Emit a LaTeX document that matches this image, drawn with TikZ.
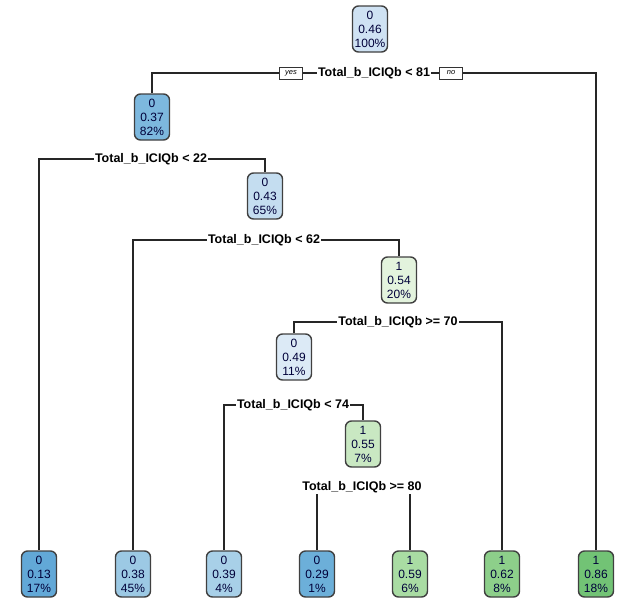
\documentclass[tikz,border=0pt]{standalone}
\usepackage{fontspec}
\setmainfont{Liberation Sans}
\usetikzlibrary{backgrounds}
\definecolor{cA}{HTML}{62A8D7}
\definecolor{cB}{HTML}{6CAFD9}
\definecolor{cC}{HTML}{7DB8DE}
\definecolor{cD}{HTML}{9CC9E4}
\definecolor{cE}{HTML}{A8D0E8}
\definecolor{cF}{HTML}{C4DDF0}
\definecolor{cG}{HTML}{CFE2F3}
\definecolor{cH}{HTML}{DCEAF6}
\definecolor{gA}{HTML}{E3F3DD}
\definecolor{gB}{HTML}{C9E8C2}
\definecolor{gC}{HTML}{A9DCA3}
\definecolor{gD}{HTML}{8DCF8A}
\definecolor{gE}{HTML}{72C375}
\begin{document}
\begin{tikzpicture}[x=1pt,y=-1pt,
		tnode/.style={draw=black!75,line width=1.4pt,rounded corners=6pt,minimum width=35pt,minimum height=46pt,inner sep=1pt,align=center,text=black!75!blue!90!black,font=\fontsize{12}{14}\selectfont},
		split/.style={fill=white,inner sep=1pt,font=\bfseries\fontsize{12.5}{14}\selectfont},
		yn/.style={draw=black!80,fill=white,line width=0.9pt,inner sep=1pt,minimum width=23pt,minimum height=12pt,font=\itshape\fontsize{7.5}{8}\selectfont},
		branch/.style={line width=1.3pt,color=black!85}]
		\useasboundingbox (0,0) rectangle (624,606);
		\node[tnode,fill=cG] (r) at (370,29) {0\\0.46\\100\%};
		\node[tnode,fill=cC] (n2) at (152,117) {0\\0.37\\82\%};
		\node[tnode,fill=cF] (n3) at (265,196) {0\\0.43\\65\%};
		\node[tnode,fill=gA] (n4) at (399,280) {1\\0.54\\20\%};
		\node[tnode,fill=cH] (n5) at (294,357) {0\\0.49\\11\%};
		\node[tnode,fill=gB] (n6) at (363,444) {1\\0.55\\7\%};
		\node[tnode,fill=cA] (l1) at (39,574) {0\\0.13\\17\%};
		\node[tnode,fill=cD] (l2) at (133,574) {0\\0.38\\45\%};
		\node[tnode,fill=cE] (l3) at (224,574) {0\\0.39\\4\%};
		\node[tnode,fill=cB] (l4) at (317,574) {0\\0.29\\1\%};
		\node[tnode,fill=gC] (l5) at (410,574) {1\\0.59\\6\%};
		\node[tnode,fill=gD] (l6) at (502,574) {1\\0.62\\8\%};
		\node[tnode,fill=gE] (l7) at (596,574) {1\\0.86\\18\%};
		\node[split] (s1) at (374,73) {Total\_b\_ICIQb < 81};
		\node[yn] (yes) at (291,73) {yes};
		\node[yn] (no) at (451,73) {no};
		\node[split] (s2) at (151,159) {Total\_b\_ICIQb < 22};
		\node[split] (s3) at (264,240) {Total\_b\_ICIQb < 62};
		\node[split] (s4) at (398,322) {Total\_b\_ICIQb >= 70};
		\node[split] (s5) at (293,405) {Total\_b\_ICIQb < 74};
		\node[split] (s6) at (362,487) {Total\_b\_ICIQb >= 80};
		\begin{scope}[on background layer]
			\draw[branch] (yes.center) -- (no.center);
			\draw[branch] (yes.center) -| (n2);
			\draw[branch] (no.center) -| (l7);
			\draw[branch] (s2.center) -| (l1);
			\draw[branch] (s2.center) -| (n3);
			\draw[branch] (s3.center) -| (l2);
			\draw[branch] (s3.center) -| (n4);
			\draw[branch] (s4.center) -| (n5);
			\draw[branch] (s4.center) -| (l6);
			\draw[branch] (s5.center) -| (l3);
			\draw[branch] (s5.center) -| (n6);
			\draw[branch] (s6.center) -| (l4);
			\draw[branch] (s6.center) -| (l5);
		\end{scope}
	\end{tikzpicture}
\end{document}
